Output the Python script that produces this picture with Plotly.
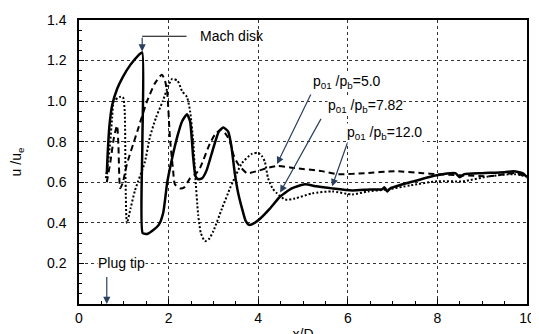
import plotly.graph_objects as go

# p01/pb = 12.0 (solid)
x_120 = [0.62, 0.64, 0.68, 0.74, 0.85, 0.98, 1.15, 1.30, 1.41, 1.415, 1.42, 1.52, 1.63, 1.78, 1.88, 1.97, 2.08, 2.20, 2.30, 2.41,
         2.48, 2.55, 2.60, 2.66, 2.75, 2.85, 3.00, 3.12, 3.22, 3.33, 3.40, 3.48, 3.55, 3.64, 3.72, 3.80, 3.92, 4.04,
         4.26, 4.49, 4.75, 5.04, 5.30, 5.65, 6.10, 6.50, 6.76, 6.82, 6.88, 6.95, 7.39, 7.99, 8.40, 8.50, 8.60, 9.00,
         9.50, 9.70, 9.90, 10.0]
u_120 = [0.64, 0.74, 0.88, 0.98, 1.06, 1.12, 1.18, 1.22, 1.24, 0.80, 0.35, 0.345, 0.36, 0.39, 0.45, 0.60, 0.72, 0.83, 0.90, 0.935,
         0.90, 0.72, 0.63, 0.615, 0.62, 0.66, 0.77, 0.85, 0.87, 0.85, 0.78, 0.64, 0.55, 0.47, 0.41, 0.39, 0.40, 0.42,
         0.47, 0.53, 0.57, 0.59, 0.58, 0.57, 0.56, 0.565, 0.565, 0.575, 0.555, 0.57, 0.60, 0.635, 0.645, 0.625, 0.64, 0.645,
         0.65, 0.655, 0.645, 0.625]

# p01/pb = 5.0 (dashed)
x_50 = [0.62, 0.70, 0.78, 0.85, 0.88, 0.92, 0.98, 1.07, 1.30, 1.52, 1.70, 1.85, 1.92, 1.97, 2.03, 2.10, 2.14, 2.25,
        2.35, 2.48, 2.60, 2.70, 2.92, 3.05, 3.19, 3.30, 3.37, 3.44, 3.55, 3.75, 3.97, 4.20, 4.42, 4.82, 5.42, 5.78,
        6.38, 7.05, 7.68, 8.00, 8.50, 9.17, 9.50, 9.78, 10.0]
u_50 = [0.60, 0.70, 0.82, 0.88, 0.78, 0.57, 0.60, 0.69, 0.85, 1.00, 1.09, 1.13, 1.10, 1.04, 0.82, 0.66, 0.59, 0.57,
        0.575, 0.62, 0.64, 0.67, 0.79, 0.84, 0.86, 0.83, 0.80, 0.74, 0.69, 0.645, 0.655, 0.67, 0.68, 0.67, 0.655, 0.64,
        0.645, 0.655, 0.645, 0.64, 0.635, 0.63, 0.64, 0.645, 0.62]

# p01/pb = 7.82 (dotted)
x_782 = [0.60, 0.65, 0.69, 0.74, 0.78, 0.90, 0.98, 1.02, 1.04, 1.07, 1.15, 1.25, 1.47, 1.58, 1.72, 1.87, 2.00, 2.08,
         2.20, 2.30, 2.41, 2.48, 2.55, 2.59, 2.66, 2.72, 2.81, 2.90, 3.00, 3.19, 3.37, 3.44, 3.64, 3.86, 4.00, 4.08,
         4.15, 4.22, 4.32, 4.42, 4.60, 4.82, 5.20, 5.65, 6.10, 6.45, 6.90, 7.40, 8.00, 8.57, 9.17, 9.70, 10.0]
u_782 = [0.62, 0.70, 0.78, 0.92, 1.00, 1.02, 1.02, 0.95, 0.60, 0.40, 0.47, 0.56, 0.70, 0.82, 0.92, 1.00, 1.08, 1.11,
         1.10, 1.05, 1.02, 0.95, 0.80, 0.65, 0.44, 0.35, 0.31, 0.32, 0.36, 0.47, 0.57, 0.605, 0.695, 0.74, 0.745, 0.73,
         0.70, 0.62, 0.57, 0.545, 0.515, 0.52, 0.545, 0.555, 0.54, 0.555, 0.565, 0.585, 0.605, 0.605, 0.63, 0.64, 0.63]

x_ticks = [0, 2, 4, 6, 8, 10]
y_ticks = [0.2, 0.4, 0.6, 0.8, 1.0, 1.2, 1.4]

FONT = "Liberation Sans, Arial, sans-serif"

fig = go.Figure()
fig.add_trace(go.Scatter(x=x_50, y=u_50, mode="lines",
                         line=dict(color="black", width=2, dash="6px,4px", shape="spline", smoothing=0.6)))
fig.add_trace(go.Scatter(x=x_782, y=u_782, mode="lines",
                         line=dict(color="black", width=2, dash="2px,2px", shape="spline", smoothing=0.6)))
fig.add_trace(go.Scatter(x=x_120, y=u_120, mode="lines",
                         line=dict(color="black", width=2.5, shape="spline", smoothing=0.5)))

# Mach disk leader
fig.add_shape(type="line", x0=1.41, x1=2.4, y0=1.32, y1=1.32, xref="x", yref="y",
              line=dict(color="black", width=1.2))
fig.add_annotation(x=1.41, y=1.245, ax=1.41, ay=1.32, axref="x", ayref="y", xref="x", yref="y",
                   text="", showarrow=True, arrowhead=2, arrowsize=1.2, arrowwidth=1.2)
fig.add_annotation(x=2.66, y=1.32, xref="x", yref="y", text="Mach disk", showarrow=False,
                   xanchor="left", font=dict(family=FONT, size=14, color="black"))

# Plug tip
fig.add_annotation(x=0.40, y=0.2, xref="x", yref="y", text="Plug tip", showarrow=False,
                   xanchor="left", bgcolor="white", borderpad=0, font=dict(family=FONT, size=14, color="black"))
fig.add_annotation(x=0.62, y=0.0, ax=0.62, ay=0.14, axref="x", ayref="y", xref="x", yref="y",
                   text="", showarrow=True, arrowhead=2, arrowsize=1.2, arrowwidth=1.2)

# Pressure ratio labels
labels = [("p<sub>01</sub> /p<sub>b</sub>=5.0", 5.20, 1.095, 5.19, 1.04, 4.42, 0.69),
          ("p<sub>01</sub> /p<sub>b</sub>=7.82", 5.54, 0.975, 5.42, 0.92, 4.49, 0.55),
          ("p<sub>01</sub> /p<sub>b</sub>=12.0", 5.96, 0.845, 6.0, 0.80, 5.65, 0.58)]
for txt, tx, ty, sx, sy, ex, ey in labels:
    fig.add_annotation(x=tx, y=ty, xref="x", yref="y", text=txt, showarrow=False, xanchor="left",
                       bgcolor="white", borderpad=0, font=dict(family=FONT, size=14, color="black"))
    fig.add_annotation(x=ex, y=ey, ax=sx, ay=sy, axref="x", ayref="y", xref="x", yref="y",
                       text="", showarrow=True, arrowhead=2, arrowsize=1.2, arrowwidth=1.2)

axis_common = dict(showline=True, linecolor="black", linewidth=1.5, mirror=True,
                   ticks="inside", ticklen=5, tickcolor="black", automargin=False,
                   showgrid=True, gridcolor="#333", griddash="dot", gridwidth=1,
                   zeroline=False, tickfont=dict(family=FONT, size=14, color="black"))

fig.update_xaxes(range=[0, 10], tickvals=x_ticks, ticktext=[str(v) for v in x_ticks],
                 minor=dict(dtick=0.5, ticks="inside", ticklen=3, tickcolor="black", showgrid=False),
                 title=dict(text="x/D", font=dict(family=FONT, size=14, color="black"), standoff=10),
                 **axis_common)
fig.update_yaxes(range=[0, 1.4], tickvals=y_ticks, ticktext=[f"{v:.1f}" for v in y_ticks],
                 minor=dict(dtick=0.05, ticks="inside", ticklen=3, tickcolor="black", showgrid=False),
                 title=dict(text="u /u<sub>e</sub>", font=dict(family=FONT, size=14, color="black"), standoff=28),
                 ticklabelstandoff=8,
                 **axis_common)

# page body has an 8px margin, so margins are shifted to keep the plot box in place
fig.update_layout(width=531, height=334, margin=dict(l=71, r=12, t=12, b=38),
                  paper_bgcolor="white", plot_bgcolor="white", showlegend=False)

fig.write_html("out.html")
